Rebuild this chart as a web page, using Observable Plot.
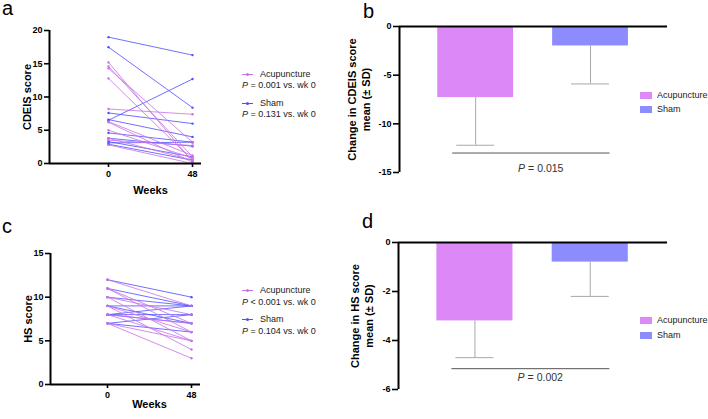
<!DOCTYPE html>
<html><head><meta charset="utf-8">
<script src="https://cdn.jsdelivr.net/npm/d3@7"></script>
<script src="https://cdn.jsdelivr.net/npm/@observablehq/plot@0.6"></script>
<style>
body{margin:0;background:#fff;font-family:"Liberation Sans",Arial,sans-serif;}
#wrap{position:relative;width:708px;height:419px;overflow:hidden;background:#fff;}
#wrap svg{position:absolute;}
.letter{position:absolute;font-size:20px;line-height:16px;color:#000;}
.lg{position:absolute;font-size:9px;line-height:10px;color:#222;white-space:nowrap;}
.sw{position:absolute;}
g[aria-label="y-axis tick label"] text, g[aria-label="x-axis tick label"] text{font-weight:bold;}
</style></head><body><div id="wrap"></div>
<script>
// ---- data ----
const groups = ["Acupuncture", "Sham"];
const weeks = [0, 48];
const cdeisAcupWk0  = [15.2, 14.6, 14.3, 12.8, 8.2, 6.3, 6.2, 5.0, 3.8, 3.5, 2.8];
const cdeisAcupWk48 = [0.3, 1.0, 3.2, 0.5, 7.4, 1.2, 0.2, 0.8, 0.5, 2.7, 0.0];
const cdeisShamWk0  = [19.0, 17.5, 6.5, 7.6, 6.6, 4.6, 3.8, 3.1, 3.3, 2.9];
const cdeisShamWk48 = [16.3, 8.4, 12.7, 6.0, 4.0, 3.2, 2.6, 3.2, 1.0, 0.5];
const hsAcupWk0  = [12, 11, 11, 10, 10, 9, 9, 8, 8, 7, 7];
const hsAcupWk48 = [9, 7, 6, 5, 8, 6, 4, 5, 7, 3, 5];
const hsShamWk0  = [12, 11, 10, 9, 9, 8, 8, 8, 7, 7];
const hsShamWk48 = [10, 9, 9, 7, 9, 9, 8, 7, 8, 6];
const cdeisChangeMean = [-7.3, -2.0];
const cdeisChangeSD   = [4.9, 3.9];
const hsChangeMean = [-3.2, -0.8];
const hsChangeSD   = [1.5, 1.4];
const cdeisSigY = -13.0, hsSigY = -5.15;
const cdeisP = "0.015", hsP = "0.002";
const cdeisTicks = [0, 5, 10, 15, 20];
const hsTicks = [0, 5, 10, 15];
const cdeisChangeTicks = [0, -5, -10, -15];
const hsChangeTicks = [0, -2, -4, -6];
const legendA = ["P = 0.001 vs. wk 0", "P = 0.131 vs. wk 0"];
const legendC = ["P < 0.001 vs. wk 0", "P = 0.104 vs. wk 0"];

// ---- styling ----
const lineColors = ["#c872e6", "#4f4fff"];
const barColors = ["#dd88f7", "#8c8cff"];
const font = "Liberation Sans, Arial, sans-serif";
const wrap = document.getElementById("wrap");

function pairRows(a0, a48, b0, b48) {
  const rows = [];
  b0.forEach((v, i) => { rows.push({id: "s" + i, group: groups[1], week: weeks[0], score: v}); rows.push({id: "s" + i, group: groups[1], week: weeks[1], score: b48[i]}); });
  a0.forEach((v, i) => { rows.push({id: "a" + i, group: groups[0], week: weeks[0], score: v}); rows.push({id: "a" + i, group: groups[0], week: weeks[1], score: a48[i]}); });
  return rows;
}

function linePanel({rows, yMax, ticks, label, left, top, width, height, mL, mR, mT, mB, xDom}) {
  const svg = Plot.plot({
    width, height, marginLeft: mL, marginRight: mR, marginTop: mT, marginBottom: mB,
    style: {fontFamily: font, fontSize: "9px", background: "transparent", overflow: "visible", color: "#000"},
    x: {domain: xDom, axis: null},
    y: {domain: [0, yMax], axis: null},
    color: {domain: groups, range: lineColors},
    marks: [
      Plot.line(rows, {x: "week", y: "score", z: "id", stroke: "group", strokeWidth: 0.9, strokeOpacity: 0.9}),
      Plot.dot(rows, {x: "week", y: "score", fill: "group", r: 1.2, stroke: null}),
      Plot.axisY({ticks, tickSize: 5, tickPadding: 2, tickFormat: d => String(d), label: null, strokeWidth: 1.6, fontWeight: "bold", fontSize: 9}),
      Plot.axisX({ticks: weeks, tickSize: 4, tickPadding: 3, tickFormat: d => String(d), label: null, strokeWidth: 1.6, fontWeight: "bold", fontSize: 9}),
      Plot.ruleX([xDom[0]], {y1: 0, y2: yMax, stroke: "#000", strokeWidth: 2}),
      Plot.ruleY([0], {x1: xDom[0], x2: xDom[1], stroke: "#000", strokeWidth: 2}),
      Plot.text([label], {frameAnchor: "left", textAnchor: "middle", dx: -22, rotate: -90, fontSize: 11, fontWeight: "bold", fill: "#000"}),
      Plot.text(["Weeks"], {x: 24, frameAnchor: "bottom", dy: mB - 12, fontSize: 11, fontWeight: "bold", fill: "#000"})
    ]
  });
  svg.style.left = left + "px"; svg.style.top = top + "px";
  wrap.appendChild(svg);
}

function barPanel({means, sds, sigY, p, ticks, label, left, top, width, height, mL, mR, mT, mB, pDy, titleDx}) {
  const data = groups.map((g, i) => ({group: g, pos: i + 1, mean: means[i], sd: sds[i]}));
  const yMin = ticks[ticks.length - 1];
  const xDom = [0.337, 2.67];
  const svg = Plot.plot({
    width, height, marginLeft: mL, marginRight: mR, marginTop: mT, marginBottom: mB,
    style: {fontFamily: font, fontSize: "9px", background: "transparent", overflow: "visible", color: "#000"},
    x: {domain: xDom, axis: null},
    y: {domain: [yMin, 0], axis: null},
    color: {domain: groups, range: barColors},
    marks: [
      Plot.ruleX(data, {x: "pos", y1: "mean", y2: d => d.mean - d.sd, stroke: "#a8a8a8", strokeWidth: 1}),
      Plot.ruleY(data, {y: d => d.mean - d.sd, x1: d => d.pos - 0.165, x2: d => d.pos + 0.165, stroke: "#a8a8a8", strokeWidth: 1}),
      Plot.rectY(data, {x1: d => d.pos - 0.33, x2: d => d.pos + 0.33, y1: 0, y2: "mean", fill: "group"}),
      Plot.ruleY([sigY], {x1: 1 - 0.2, x2: 2 + 0.17, stroke: "#555", strokeWidth: 1}),
      Plot.text(["P"], {x: 1.5, y: sigY, dy: pDy, dx: -15, textAnchor: "start", fontStyle: "italic", fontSize: 10.5, fill: "#333"}),
      Plot.text(["= " + p], {x: 1.5, y: sigY, dy: pDy, dx: -5, textAnchor: "start", fontSize: 10.5, fill: "#333"}),
      Plot.axisY({ticks, tickSize: 6, tickPadding: 2, tickFormat: d => String(d), label: null, strokeWidth: 1.6, fontWeight: "bold", fontSize: 9}),
      Plot.ruleX([xDom[0]], {y1: yMin, y2: 0, stroke: "#000", strokeWidth: 2}),
      Plot.ruleY([0], {x1: xDom[0], x2: xDom[1], stroke: "#000", strokeWidth: 2}),
      Plot.text([label], {frameAnchor: "left", textAnchor: "middle", lineAnchor: "middle", dx: titleDx, rotate: -90, lineHeight: 1.25, fontSize: 11, fontWeight: "bold", fill: "#000"})
    ]
  });
  svg.style.left = left + "px"; svg.style.top = top + "px";
  wrap.appendChild(svg);
}

linePanel({rows: pairRows(cdeisAcupWk0, cdeisAcupWk48, cdeisShamWk0, cdeisShamWk48), yMax: 20, ticks: cdeisTicks, label: "CDEIS score",
  left: 0, top: 0, width: 205, height: 205, mL: 49, mR: 4, mT: 30, mB: 42, xDom: [-33.71, 53.14]});
linePanel({rows: pairRows(hsAcupWk0, hsAcupWk48, hsShamWk0, hsShamWk48), yMax: 15, ticks: hsTicks, label: "HS score",
  left: 0, top: 210, width: 205, height: 209, mL: 50, mR: 5, mT: 43, mB: 35, xDom: [-32.57, 53.14]});
barPanel({means: cdeisChangeMean, sds: cdeisChangeSD, sigY: cdeisSigY, p: cdeisP, ticks: cdeisChangeTicks, label: "Change in CDEIS score\nmean (± SD)",
  left: 350, top: 0, width: 319, height: 200, mL: 49, mR: 2, mT: 26, mB: 28, pDy: 16, titleDx: -41});
barPanel({means: hsChangeMean, sds: hsChangeSD, sigY: hsSigY, p: hsP, ticks: hsChangeTicks, label: "Change in HS score\nmean (± SD)",
  left: 350, top: 210, width: 319, height: 209, mL: 48, mR: 2, mT: 32, mB: 30, pDy: 9, titleDx: -37});

// ---- panel letters & legends (HTML) ----
function el(cls, html, x, y, extra) {
  const d = document.createElement("div");
  d.className = cls; d.innerHTML = html;
  d.style.left = x + "px"; d.style.top = y + "px";
  if (extra) Object.assign(d.style, extra);
  wrap.appendChild(d);
  return d;
}
el("letter", "a", 2, 0);
el("letter", "b", 363, 3);
el("letter", "c", 2, 218);
el("letter", "d", 362, 213);

function lineLegend(ys, pTexts) {
  groups.forEach((g, i) => {
    const y = ys[i * 2], yp = ys[i * 2 + 1];
    el("sw", "", 242, y - 0.5, {width: "11px", height: "1px", background: lineColors[i]});
    el("sw", "", 246, y - 1.5, {width: "3px", height: "3px", borderRadius: "50%", background: lineColors[i]});
    el("lg", g, 260, y - 5.5);
    el("lg", pTexts[i].replace(/^P/, "<i>P</i>"), 242, yp - 5.5);
  });
}
lineLegend([74, 85.5, 103, 114.5], legendA);
lineLegend([290.7, 302.7, 319, 331.7], legendC);

function barLegend(ys) {
  groups.forEach((g, i) => {
    el("sw", "", 640, ys[i] - 3.3, {width: "12px", height: "6.6px", background: barColors[i]});
    el("lg", g, 657, ys[i] - 5.5);
  });
}
barLegend([95.3, 109.7]);
barLegend([320.7, 335.7]);
</script></body></html>
